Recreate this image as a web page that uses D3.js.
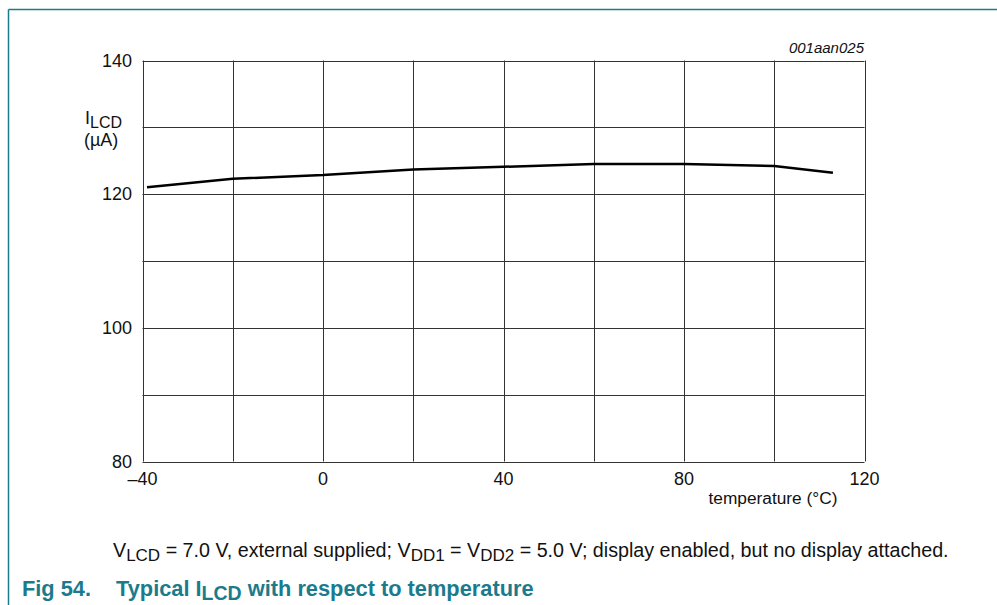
<!DOCTYPE html>
<html>
<head>
<meta charset="utf-8">
<title>Typical ILCD with respect to temperature</title>
<script src="https://d3js.org/d3.v7.min.js"></script>
<style>
	body { margin: 0; background: #fff; }
	text { font-family: "Liberation Sans", Arial, sans-serif; fill: #111; }
</style>
</head>
<body>
<script>

// data
var temps = [-39, -20, 0, 20, 40, 60, 80, 100, 113]
var iLcd = [121.05, 122.3, 122.85, 123.7, 124.1, 124.5, 124.5, 124.2, 123.2]
var xTicks = [-40, 0, 40, 80, 120]
var yTicks = [80, 100, 120, 140]
var xGrid = d3.range(-40, 121, 20)
var yGrid = d3.range(80, 141, 10)

var width = 997
var height = 605
var teal = '#1b7b8c'

var svg = d3.select('body').append('svg')
	.attr('width', width)
	.attr('height', height)

// page frame
svg.append('line').attr('x1', 8.5).attr('x2', width).attr('y1', 9.5).attr('y2', 9.5)
	.attr('stroke', teal).attr('stroke-width', 1.5)
svg.append('line').attr('x1', 8.5).attr('x2', 8.5).attr('y1', 9.5).attr('y2', height)
	.attr('stroke', teal).attr('stroke-width', 1.5)

var x = d3.scaleLinear().domain([-40, 120]).range([142.5, 864.5])
var y = d3.scaleLinear().domain([80, 140]).range([461.5, 60.5])

var grid = svg.append('g')
grid.selectAll('.vg').data(xGrid).enter().append('line')
	.attr('x1', function(d) { return Math.round(x(d)) + 0.5 })
	.attr('x2', function(d) { return Math.round(x(d)) + 0.5 })
	.attr('y1', y(80)).attr('y2', y(140))
	.attr('stroke', '#333').attr('stroke-width', 1)
grid.selectAll('.hg').data(yGrid).enter().append('line')
	.attr('y1', function(d) { return Math.round(y(d)) + 0.5 })
	.attr('y2', function(d) { return Math.round(y(d)) + 0.5 })
	.attr('x1', x(-40)).attr('x2', x(120))
	.attr('stroke', '#333').attr('stroke-width', 1)

// tick labels
svg.append('g').selectAll('text').data(yTicks).enter().append('text')
	.attr('x', 132).attr('y', function(d) { return y(d) + 6 })
	.attr('text-anchor', 'end').attr('font-size', 18)
	.text(function(d) { return d })
svg.append('g').selectAll('text').data(xTicks).enter().append('text')
	.attr('x', function(d) { return x(d) }).attr('y', 485)
	.attr('text-anchor', 'middle').attr('font-size', 18)
	.text(function(d) { return d < 0 ? '\u2013' + Math.abs(d) : d })

// axis titles
var yl = svg.append('text').attr('x', 85).attr('y', 124).attr('font-size', 18)
yl.append('tspan').text('I')
yl.append('tspan').attr('dy', 4).attr('font-size', 16).text('LCD')
svg.append('text').attr('x', 84).attr('y', 146).attr('font-size', 18).text('(\u00b5A)')
svg.append('text').attr('x', 773).attr('y', 504).attr('text-anchor', 'middle')
	.attr('font-size', 17.3).text('temperature (\u00b0C)')
svg.append('text').attr('x', 864).attr('y', 53).attr('text-anchor', 'end')
	.attr('font-size', 15).attr('font-style', 'italic').text('001aan025')

// curve
var line = d3.line()
	.x(function(d) { return x(d[0]) })
	.y(function(d) { return y(d[1]) })
svg.append('path').datum(d3.zip(temps, iLcd))
	.attr('d', line).attr('fill', 'none')
	.attr('stroke', '#000').attr('stroke-width', 2.5)

// notes
var note = svg.append('text').attr('x', 113).attr('y', 557).attr('font-size', 19.7)
note.append('tspan').text('V')
note.append('tspan').attr('dy', 4).attr('font-size', 17).text('LCD')
note.append('tspan').attr('dy', -4).text(' = 7.0 V, external supplied; V')
note.append('tspan').attr('dy', 4).attr('font-size', 17).text('DD1')
note.append('tspan').attr('dy', -4).text(' = V')
note.append('tspan').attr('dy', 4).attr('font-size', 17).text('DD2')
note.append('tspan').attr('dy', -4).text(' = 5.0 V; display enabled, but no display attached.')

var cap = svg.append('text').attr('x', 22).attr('y', 596).attr('font-size', 21.8)
	.attr('font-weight', 'bold').style('fill', teal)
cap.append('tspan').text('Fig 54.')
cap.append('tspan').attr('x', 116).text('Typical I')
cap.append('tspan').attr('dy', 4).attr('font-size', 19.5).text('LCD')
cap.append('tspan').attr('dy', -4).text(' with respect to temperature')

</script>
</body>
</html>
